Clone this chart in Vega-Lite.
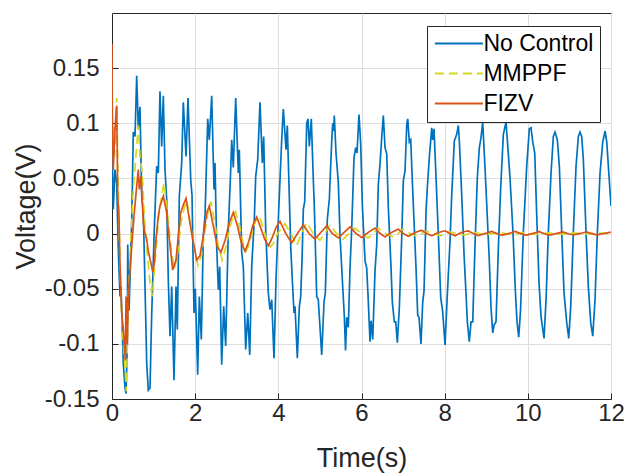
{
"$schema": "https://vega.github.io/schema/vega-lite/v6.json",
"width": 499, "height": 386,
"autosize": {"type": "none"},
"padding": {"left": 112, "top": 13, "right": 16, "bottom": 75},
"background": "white",
"config": {
 "font": "Liberation Sans",
 "view": {"stroke": "#262626", "strokeWidth": 1},
 "axis": {"labelFont": "Liberation Sans", "titleFont": "Liberation Sans", "labelFontSize": 24, "titleFontSize": 27, "titleFontWeight": "normal", "labelColor": "#262626", "titleColor": "#262626", "domainColor": "#262626", "tickColor": "#262626", "gridColor": "#dedede", "gridWidth": 1, "tickSize": -6, "domainWidth": 1, "labelFlush": false}
},
"data": {"values": [
{"t":0,"N":0.09},{"t":0.031,"N":0.022},{"t":0.072,"N":0.058},{"t":0.113,"N":0.045},{"t":0.152,"N":-0.015},{"t":0.192,"N":-0.057},{"t":0.216,"N":-0.048},{"t":0.248,"N":-0.087},{"t":0.272,"N":-0.118},{"t":0.313,"N":-0.14},{"t":0.337,"N":-0.145},{"t":0.368,"N":-0.1},{"t":0.378,"N":-0.01},{"t":0.409,"N":-0.07},{"t":0.474,"N":0.01},{"t":0.512,"N":0.092},{"t":0.553,"N":0.088},{"t":0.594,"N":0.143},{"t":0.633,"N":0.095},{"t":0.673,"N":0.115},{"t":0.714,"N":0.034},{"t":0.753,"N":0.02},{"t":0.794,"N":-0.048},{"t":0.835,"N":-0.118},{"t":0.873,"N":-0.142},{"t":0.914,"N":-0.14},{"t":0.955,"N":-0.073},{"t":1.017,"N":0.004},{"t":1.075,"N":0.061},{"t":1.114,"N":0.055},{"t":1.154,"N":0.129},{"t":1.195,"N":0.079},{"t":1.234,"N":0.125},{"t":1.275,"N":0.058},{"t":1.315,"N":0.031},{"t":1.354,"N":-0.042},{"t":1.395,"N":-0.093},{"t":1.436,"N":-0.048},{"t":1.491,"N":-0.133},{"t":1.539,"N":-0.048},{"t":1.57,"N":-0.087},{"t":1.619,"N":0.034},{"t":1.676,"N":0.064},{"t":1.715,"N":0.119},{"t":1.78,"N":0.07},{"t":1.828,"N":0.123},{"t":1.893,"N":0.049},{"t":1.924,"N":0.035},{"t":1.972,"N":-0.072},{"t":2.003,"N":-0.05},{"t":2.061,"N":-0.128},{"t":2.1,"N":-0.057},{"t":2.148,"N":-0.096},{"t":2.196,"N":-0.002},{"t":2.237,"N":0.016},{"t":2.302,"N":0.104},{"t":2.34,"N":0.085},{"t":2.398,"N":0.125},{"t":2.453,"N":0.04},{"t":2.477,"N":0.064},{"t":2.518,"N":-0.012},{"t":2.557,"N":-0.051},{"t":2.59,"N":-0.03},{"t":2.638,"N":-0.119},{"t":2.686,"N":-0.066},{"t":2.734,"N":-0.102},{"t":2.797,"N":0.004},{"t":2.855,"N":0.058},{"t":2.879,"N":0.085},{"t":2.917,"N":0.06},{"t":2.975,"N":0.123},{"t":3.037,"N":0.055},{"t":3.062,"N":0.076},{"t":3.119,"N":-0.017},{"t":3.158,"N":-0.03},{"t":3.215,"N":-0.105},{"t":3.264,"N":-0.072},{"t":3.312,"N":-0.11},{"t":3.36,"N":-0.03},{"t":3.422,"N":0.013},{"t":3.456,"N":0.052},{"t":3.504,"N":0.067},{"t":3.559,"N":0.119},{"t":3.615,"N":0.064},{"t":3.648,"N":0.088},{"t":3.696,"N":0.004},{"t":3.759,"N":-0.054},{"t":3.8,"N":-0.069},{"t":3.841,"N":-0.06},{"t":3.896,"N":-0.113},{"t":3.944,"N":-0.042},{"t":4.0,"N":0.013},{"t":4.04,"N":0.049},{"t":4.081,"N":0.085},{"t":4.12,"N":0.113},{"t":4.185,"N":0.076},{"t":4.216,"N":0.098},{"t":4.257,"N":0.043},{"t":4.298,"N":-0.012},{"t":4.336,"N":-0.042},{"t":4.377,"N":-0.072},{"t":4.401,"N":-0.066},{"t":4.457,"N":-0.113},{"t":4.505,"N":-0.066},{"t":4.538,"N":-0.057},{"t":4.57,"N":-0.024},{"t":4.601,"N":0.022},{"t":4.634,"N":0.029},{"t":4.683,"N":0.1},{"t":4.714,"N":0.104},{"t":4.745,"N":0.079},{"t":4.793,"N":0.104},{"t":4.841,"N":0.049},{"t":4.865,"N":0.025},{"t":4.923,"N":-0.057},{"t":4.961,"N":-0.06},{"t":5.043,"N":-0.11},{"t":5.099,"N":-0.062},{"t":5.13,"N":-0.054},{"t":5.178,"N":0.013},{"t":5.226,"N":0.031},{"t":5.284,"N":0.084},{"t":5.308,"N":0.1},{"t":5.332,"N":0.093},{"t":5.346,"N":0.107},{"t":5.387,"N":0.073},{"t":5.443,"N":0.046},{"t":5.483,"N":-0.002},{"t":5.548,"N":-0.048},{"t":5.587,"N":-0.075},{"t":5.616,"N":-0.106},{"t":5.645,"N":-0.076},{"t":5.683,"N":-0.085},{"t":5.724,"N":-0.031},{"t":5.765,"N":0.005},{"t":5.82,"N":0.069},{"t":5.861,"N":0.078},{"t":5.892,"N":0.073},{"t":5.94,"N":0.108},{"t":5.981,"N":0.081},{"t":6.02,"N":0.026},{"t":6.085,"N":-0.025},{"t":6.125,"N":-0.031},{"t":6.164,"N":-0.062},{"t":6.205,"N":-0.098},{"t":6.229,"N":-0.079},{"t":6.27,"N":-0.096},{"t":6.325,"N":-0.034},{"t":6.366,"N":-0.01},{"t":6.405,"N":0.045},{"t":6.445,"N":0.063},{"t":6.486,"N":0.087},{"t":6.525,"N":0.107},{"t":6.566,"N":0.078},{"t":6.607,"N":0.072},{"t":6.645,"N":0.024},{"t":6.71,"N":-0.031},{"t":6.741,"N":-0.062},{"t":6.789,"N":-0.08},{"t":6.823,"N":-0.08},{"t":6.862,"N":-0.099},{"t":6.91,"N":-0.067},{"t":6.967,"N":-0.004},{"t":7.006,"N":0.048},{"t":7.047,"N":0.057},{"t":7.088,"N":0.099},{"t":7.112,"N":0.104},{"t":7.15,"N":0.083},{"t":7.184,"N":0.085},{"t":7.222,"N":0.048},{"t":7.27,"N":0.005},{"t":7.311,"N":-0.031},{"t":7.352,"N":-0.074},{"t":7.383,"N":-0.076},{"t":7.431,"N":-0.1},{"t":7.472,"N":-0.062},{"t":7.504,"N":-0.052},{"t":7.552,"N":0.02},{"t":7.583,"N":0.042},{"t":7.631,"N":0.069},{"t":7.689,"N":0.096},{"t":7.713,"N":0.085},{"t":7.744,"N":0.095},{"t":7.792,"N":0.051},{"t":7.848,"N":-0.001},{"t":7.905,"N":-0.058},{"t":7.953,"N":-0.071},{"t":8.009,"N":-0.101},{"t":8.064,"N":-0.055},{"t":8.129,"N":-0.007},{"t":8.17,"N":0.035},{"t":8.232,"N":0.084},{"t":8.29,"N":0.09},{"t":8.329,"N":0.098},{"t":8.353,"N":0.084},{"t":8.41,"N":0.035},{"t":8.466,"N":-0.019},{"t":8.514,"N":-0.055},{"t":8.545,"N":-0.08},{"t":8.593,"N":-0.098},{"t":8.634,"N":-0.08},{"t":8.675,"N":-0.08},{"t":8.73,"N":-0.01},{"t":8.786,"N":0.051},{"t":8.834,"N":0.078},{"t":8.874,"N":0.087},{"t":8.915,"N":0.101},{"t":8.954,"N":0.072},{"t":9.012,"N":0.026},{"t":9.074,"N":-0.025},{"t":9.115,"N":-0.067},{"t":9.156,"N":-0.09},{"t":9.187,"N":-0.083},{"t":9.235,"N":-0.08},{"t":9.291,"N":-0.013},{"t":9.348,"N":0.042},{"t":9.411,"N":0.09},{"t":9.476,"N":0.101},{"t":9.531,"N":0.072},{"t":9.572,"N":0.05},{"t":9.644,"N":0.0},{"t":9.704,"N":-0.055},{"t":9.74,"N":-0.08},{"t":9.781,"N":-0.094},{"t":9.824,"N":-0.07},{"t":9.892,"N":0.001},{"t":9.973,"N":0.061},{"t":10.036,"N":0.095},{"t":10.077,"N":0.096},{"t":10.118,"N":0.083},{"t":10.166,"N":0.073},{"t":10.214,"N":0.016},{"t":10.27,"N":-0.045},{"t":10.317,"N":-0.075},{"t":10.349,"N":-0.084},{"t":10.39,"N":-0.095},{"t":10.438,"N":-0.06},{"t":10.493,"N":0.001},{"t":10.558,"N":0.055},{"t":10.613,"N":0.088},{"t":10.654,"N":0.092},{"t":10.71,"N":0.085},{"t":10.758,"N":0.061},{"t":10.815,"N":0.001},{"t":10.871,"N":-0.054},{"t":10.936,"N":-0.081},{"t":10.984,"N":-0.095},{"t":11.032,"N":-0.066},{"t":11.094,"N":0.001},{"t":11.159,"N":0.061},{"t":11.215,"N":0.088},{"t":11.255,"N":0.092},{"t":11.296,"N":0.088},{"t":11.335,"N":0.067},{"t":11.4,"N":0.001},{"t":11.455,"N":-0.048},{"t":11.513,"N":-0.081},{"t":11.561,"N":-0.093},{"t":11.616,"N":-0.06},{"t":11.672,"N":0.001},{"t":11.737,"N":0.055},{"t":11.801,"N":0.083},{"t":11.857,"N":0.093},{"t":11.898,"N":0.083},{"t":11.937,"N":0.061},{"t":12,"N":0.025},
{"t":0,"M":0.11},{"t":0.06,"M":0.07},{"t":0.113,"M":0.123},{"t":0.152,"M":0.04},{"t":0.192,"M":-0.027},{"t":0.233,"M":-0.072},{"t":0.272,"M":-0.1},{"t":0.313,"M":-0.12},{"t":0.345,"M":-0.143},{"t":0.392,"M":-0.057},{"t":0.457,"M":-0.002},{"t":0.512,"M":0.04},{"t":0.594,"M":0.079},{"t":0.633,"M":0.098},{"t":0.673,"M":0.07},{"t":0.729,"M":0.055},{"t":0.777,"M":0.016},{"t":0.835,"M":-0.012},{"t":0.914,"M":-0.045},{"t":0.97,"M":-0.057},{"t":1.034,"M":-0.027},{"t":1.114,"M":0.013},{"t":1.194,"M":0.034},{"t":1.25,"M":0.046},{"t":1.33,"M":0.02},{"t":1.41,"M":-0.01},{"t":1.5,"M":-0.032},{"t":1.58,"M":-0.018},{"t":1.66,"M":0.01},{"t":1.74,"M":0.024},{"t":1.8,"M":0.03},{"t":1.9,"M":0.005},{"t":2.0,"M":-0.018},{"t":2.07,"M":-0.029},{"t":2.15,"M":-0.02},{"t":2.23,"M":0.0},{"t":2.31,"M":0.02},{"t":2.38,"M":0.029},{"t":2.47,"M":0.01},{"t":2.56,"M":-0.012},{"t":2.65,"M":-0.024},{"t":2.74,"M":-0.012},{"t":2.83,"M":0.005},{"t":2.93,"M":0.018},{"t":2.97,"M":0.02},{"t":3.06,"M":0.008},{"t":3.15,"M":-0.008},{"t":3.22,"M":-0.016},{"t":3.3,"M":-0.01},{"t":3.4,"M":0.006},{"t":3.5,"M":0.015},{"t":3.54,"M":0.016},{"t":3.63,"M":0.006},{"t":3.72,"M":-0.005},{"t":3.81,"M":-0.012},{"t":3.88,"M":-0.009},{"t":3.98,"M":0.0},{"t":4.16,"M":0.009},{"t":4.3,"M":0.0},{"t":4.44,"M":-0.011},{"t":4.56,"M":0.0},{"t":4.68,"M":0.01},{"t":4.84,"M":0.0},{"t":5.0,"M":-0.006},{"t":5.12,"M":0.0},{"t":5.24,"M":0.008},{"t":5.4,"M":0.0},{"t":5.56,"M":-0.005},{"t":5.7,"M":0.0},{"t":5.84,"M":0.005},{"t":6.0,"M":0.0},{"t":6.16,"M":-0.004},{"t":6.28,"M":0.0},{"t":6.4,"M":0.005},{"t":6.58,"M":0.0},{"t":6.77,"M":-0.003},{"t":6.88,"M":0.0},{"t":7.0,"M":0.004},{"t":7.17,"M":0.0},{"t":7.33,"M":-0.0025},{"t":7.45,"M":0.0},{"t":7.57,"M":0.002},{"t":7.75,"M":0.0},{"t":7.9,"M":-0.002},{"t":8.02,"M":0.0},{"t":8.13,"M":0.0015},{"t":8.3,"M":0.0},{"t":8.47,"M":-0.0015},{"t":8.6,"M":0.0},{"t":8.7,"M":0.001},{"t":9.0,"M":-0.001},{"t":9.3,"M":0.001},{"t":9.6,"M":-0.0008},{"t":9.9,"M":0.0008},{"t":10.2,"M":-0.0008},{"t":10.5,"M":0.0006},{"t":10.8,"M":-0.0006},{"t":11.1,"M":0.0006},{"t":11.4,"M":-0.0005},{"t":11.7,"M":0.0005},{"t":12,"M":0.0},
{"t":0,"F":0.172},{"t":0.007,"F":0.11},{"t":0.031,"F":0.058},{"t":0.072,"F":0.095},{"t":0.113,"F":0.116},{"t":0.137,"F":0.034},{"t":0.168,"F":0.016},{"t":0.192,"F":-0.027},{"t":0.233,"F":-0.072},{"t":0.272,"F":-0.087},{"t":0.296,"F":-0.1},{"t":0.32,"F":-0.115},{"t":0.337,"F":-0.057},{"t":0.368,"F":-0.1},{"t":0.392,"F":-0.057},{"t":0.433,"F":-0.033},{"t":0.474,"F":-0.012},{"t":0.536,"F":0.019},{"t":0.594,"F":0.043},{"t":0.633,"F":0.058},{"t":0.657,"F":0.04},{"t":0.697,"F":0.052},{"t":0.753,"F":0.01},{"t":0.794,"F":0.0},{"t":0.835,"F":-0.005},{"t":0.873,"F":-0.016},{"t":0.938,"F":-0.027},{"t":0.979,"F":-0.035},{"t":1.017,"F":-0.027},{"t":1.058,"F":-0.005},{"t":1.114,"F":0.016},{"t":1.154,"F":0.025},{"t":1.234,"F":0.034},{"t":1.315,"F":0.019},{"t":1.378,"F":-0.005},{"t":1.46,"F":-0.033},{"t":1.539,"F":-0.024},{"t":1.595,"F":-0.002},{"t":1.652,"F":0.019},{"t":1.715,"F":0.026},{"t":1.78,"F":0.032},{"t":1.859,"F":0.013},{"t":1.941,"F":-0.005},{"t":2.037,"F":-0.024},{"t":2.116,"F":-0.02},{"t":2.196,"F":-0.002},{"t":2.278,"F":0.019},{"t":2.34,"F":0.025},{"t":2.436,"F":0.007},{"t":2.532,"F":-0.012},{"t":2.621,"F":-0.017},{"t":2.72,"F":-0.006},{"t":2.82,"F":0.01},{"t":2.917,"F":0.019},{"t":3.01,"F":0.008},{"t":3.1,"F":-0.007},{"t":3.199,"F":-0.016},{"t":3.29,"F":-0.007},{"t":3.39,"F":0.008},{"t":3.48,"F":0.015},{"t":3.57,"F":0.006},{"t":3.67,"F":-0.005},{"t":3.759,"F":-0.011},{"t":3.85,"F":-0.004},{"t":3.95,"F":0.006},{"t":4.04,"F":0.011},{"t":4.18,"F":0.0},{"t":4.322,"F":-0.0085},{"t":4.46,"F":0.0},{"t":4.6,"F":0.008},{"t":4.74,"F":0.0},{"t":4.882,"F":-0.005},{"t":5.02,"F":0.001},{"t":5.164,"F":0.007},{"t":5.3,"F":0.0},{"t":5.443,"F":-0.004},{"t":5.58,"F":0.001},{"t":5.724,"F":0.006},{"t":5.87,"F":0.0},{"t":6.005,"F":-0.0035},{"t":6.16,"F":0.001},{"t":6.325,"F":0.005},{"t":6.45,"F":0.0},{"t":6.566,"F":-0.003},{"t":6.72,"F":0.001},{"t":6.885,"F":0.004},{"t":7.01,"F":0.0},{"t":7.126,"F":-0.0025},{"t":7.29,"F":0.001},{"t":7.448,"F":0.003},{"t":7.57,"F":0.0},{"t":7.689,"F":-0.002},{"t":7.85,"F":0.001},{"t":8.009,"F":0.0025},{"t":8.13,"F":0.0},{"t":8.249,"F":-0.002},{"t":8.4,"F":0.001},{"t":8.562,"F":0.0025},{"t":8.69,"F":0.0},{"t":8.81,"F":-0.0018},{"t":8.97,"F":0.0},{"t":9.13,"F":0.002},{"t":9.25,"F":0.0},{"t":9.38,"F":-0.0015},{"t":9.54,"F":0.0},{"t":9.7,"F":0.002},{"t":9.82,"F":0.0},{"t":9.95,"F":-0.0015},{"t":10.11,"F":0.0},{"t":10.27,"F":0.0018},{"t":10.39,"F":0.0},{"t":10.52,"F":-0.0015},{"t":10.68,"F":0.0},{"t":10.84,"F":0.0015},{"t":10.96,"F":0.0},{"t":11.09,"F":-0.0012},{"t":11.25,"F":0.0},{"t":11.41,"F":0.0015},{"t":11.53,"F":0.0},{"t":11.66,"F":-0.0012},{"t":11.82,"F":0.0},{"t":11.98,"F":0.0012},{"t":12,"F":0.0012}
]},
"transform": [{"fold": ["N", "M", "F"], "as": ["k", "v"]}, {"filter": "isValid(datum.v)"}],
"encoding": {
 "x": {"field": "t", "type": "quantitative", "scale": {"domain": [0, 12], "nice": false}, "axis": {"values": [0, 2, 4, 6, 8, 10, 12], "title": "Time(s)", "labelPadding": 8, "titlePadding": 20, "grid": true}},
 "y": {"field": "v", "type": "quantitative", "scale": {"domain": [-0.15, 0.2], "nice": false, "zero": false}, "axis": {"values": [-0.15, -0.1, -0.05, 0, 0.05, 0.1, 0.15], "title": "Voltage(V)", "labelPadding": 19, "titlePadding": 4, "grid": true, "labelExpr": "datum.value < 0 ? '-' + format(-datum.value, '.2~f') : format(datum.value, '.2~f')"}},
 "color": {"field": "k", "type": "nominal", "scale": {"domain": ["N", "M", "F"], "range": ["#0072BD", "#D6D61C", "#D95319"]}, "legend": {"title": null, "orient": "none", "legendX": 315, "legendY": 13, "symbolType": "M-2.5,0H2.5", "symbolSize": 369, "symbolOffset": 14.4, "symbolStrokeWidth": 1.8, "labelFontSize": 23, "labelFont": "Liberation Sans", "labelColor": "#000000", "labelExpr": "datum.label == 'N' ? 'No Control' : datum.label == 'M' ? 'MMPPF' : 'FIZV'", "strokeColor": "#262626", "fillColor": "white", "padding": 6, "rowPadding": 6, "labelOffset": 13}},
 "strokeDash": {"field": "k", "type": "nominal", "scale": {"domain": ["N", "M", "F"], "range": [[1, 0], [9, 5], [1, 0]]}, "legend": {"title": null, "orient": "none", "legendX": 315, "legendY": 13, "symbolType": "M-2.5,0H2.5", "symbolSize": 369, "symbolOffset": 14.4, "symbolStrokeWidth": 1.8, "labelFontSize": 23, "labelFont": "Liberation Sans", "labelColor": "#000000", "labelExpr": "datum.label == 'N' ? 'No Control' : datum.label == 'M' ? 'MMPPF' : 'FIZV'", "strokeColor": "#262626", "fillColor": "white", "padding": 6, "rowPadding": 6, "labelOffset": 13}}
},
"layer": [
 {"transform": [{"filter": "datum.k == 'N'"}], "mark": {"type": "line", "strokeWidth": 1.7, "clip": true}},
 {"transform": [{"filter": "datum.k == 'M'"}], "mark": {"type": "line", "strokeWidth": 1.7, "clip": true}},
 {"transform": [{"filter": "datum.k == 'F'"}], "mark": {"type": "line", "strokeWidth": 1.7, "clip": true}}
]
}
